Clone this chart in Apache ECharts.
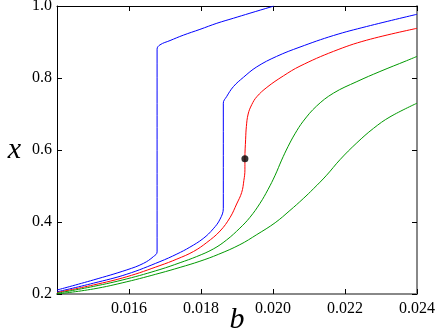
<!DOCTYPE html>
<html>
<head>
<meta charset="utf-8">
<script src="https://cdn.jsdelivr.net/npm/echarts@6/dist/echarts.min.js"></script>
<style>
  html, body { margin: 0; padding: 0; background: #fff; }
  #main { width: 436px; height: 336px; }
</style>
</head>
<body>
<div id="main"></div>
<script>
const chartDom = document.getElementById('main');
let myChart = echarts.init(chartDom);

// curves: [b, x]
const blueLeft = [
    [0.01400, 0.211], [0.01501, 0.239], [0.01594, 0.267], [0.01640, 0.285],
    [0.01668, 0.304], [0.01678, 0.317], [0.01678, 0.880], [0.01686, 0.892],
    [0.01714, 0.904], [0.01751, 0.919], [0.01797, 0.935], [0.01844, 0.952],
    [0.01890, 0.966], [0.01936, 0.980], [0.01996, 0.998], [0.02002, 1.000]
];
const blueRight = [
    [0.01400, 0.206], [0.01501, 0.230], [0.01594, 0.255], [0.01686, 0.290],
    [0.01733, 0.311], [0.01769, 0.330], [0.01806, 0.354], [0.01834, 0.381],
    [0.01853, 0.408], [0.01862, 0.438], [0.01862, 0.730], [0.01871, 0.748],
    [0.01890, 0.776], [0.01918, 0.802], [0.01955, 0.831], [0.02010, 0.860],
    [0.02075, 0.886], [0.02168, 0.918], [0.02260, 0.943], [0.02400, 0.977]
];
const red = [
    [0.01400, 0.204], [0.01501, 0.225], [0.01594, 0.248], [0.01686, 0.279],
    [0.01733, 0.297], [0.01779, 0.318], [0.01816, 0.343], [0.01853, 0.375],
    [0.01881, 0.413], [0.01899, 0.450], [0.01913, 0.482], [0.01919, 0.515],
    [0.01922, 0.545], [0.01922, 0.576], [0.01924, 0.630], [0.01926, 0.665],
    [0.01931, 0.700], [0.01941, 0.726], [0.01955, 0.748], [0.01983, 0.774],
    [0.02029, 0.806], [0.02075, 0.833], [0.02168, 0.874], [0.02260, 0.905],
    [0.02400, 0.938]
];
const greenUpper = [
    [0.01400, 0.202], [0.01501, 0.221], [0.01594, 0.242], [0.01686, 0.268],
    [0.01742, 0.287], [0.01788, 0.304], [0.01834, 0.325], [0.01871, 0.350],
    [0.01908, 0.383], [0.01936, 0.413], [0.01964, 0.452], [0.01986, 0.490],
    [0.02006, 0.530], [0.02024, 0.572], [0.02042, 0.610], [0.02061, 0.645],
    [0.02084, 0.680], [0.02121, 0.722], [0.02168, 0.758], [0.02233, 0.790],
    [0.02297, 0.818], [0.02371, 0.848], [0.02400, 0.860]
];
const greenLower = [
    [0.01400, 0.200], [0.01501, 0.214], [0.01594, 0.234], [0.01686, 0.258],
    [0.01742, 0.274], [0.01797, 0.291], [0.01848, 0.310], [0.01908, 0.337],
    [0.01955, 0.365], [0.02006, 0.398], [0.02047, 0.432], [0.02084, 0.465],
    [0.02112, 0.492], [0.02149, 0.530], [0.02186, 0.573], [0.02233, 0.620],
    [0.02279, 0.660], [0.02325, 0.692], [0.02400, 0.730]
];
const criticalPoint = [[0.01922, 0.576]];

const xTicks = [0.014, 0.024, 0.002];
const yTicks = [0.2, 1.0, 0.2];

const serif = 'Liberation Serif';

lineSeries = (data, color) => ({
    type: 'line',
    data,
    showSymbol: false,
    smooth: 0.4,
    clip: true,
    lineStyle: { color, width: 1 },
    animation: false
});

myChart.setOption({
    textStyle: { fontFamily: serif, color: '#000' },
    grid: { left: 57, right: 19, top: 6, bottom: 42, outerBoundsMode: 'none' },
    xAxis: [
        {
            type: 'value',
            min: xTicks[0], max: xTicks[1], interval: xTicks[2],
            name: 'b',
            nameLocation: 'middle',
            nameGap: 11,
            nameMoveOverlap: false,
            nameTextStyle: { fontFamily: serif, fontStyle: 'italic', fontSize: 30, color: '#000' },
            axisLine: { lineStyle: { color: '#888', width: 2 } },
            axisTick: { inside: true, length: 5, lineStyle: { color: '#000' } },
            axisLabel: {
                formatter: (v) => v <= 0.0141 ? '' : v.toFixed(3),
                margin: 7,
                fontFamily: serif,
                fontSize: 16,
                color: '#000'
            },
            splitLine: { show: false }
        },
        {
            type: 'value', position: 'top',
            min: xTicks[0], max: xTicks[1], interval: xTicks[2],
            axisLine: { lineStyle: { color: '#000', width: 1 } },
            axisTick: { inside: true, length: 5, lineStyle: { color: '#000' } },
            axisLabel: { show: false },
            splitLine: { show: false }
        }
    ],
    yAxis: [
        {
            type: 'value',
            min: yTicks[0], max: yTicks[1], interval: yTicks[2],
            name: 'x',
            nameLocation: 'middle',
            nameRotate: 0,
            nameGap: 36,
            nameMoveOverlap: false,
            nameTextStyle: { fontFamily: serif, fontStyle: 'italic', fontSize: 30, color: '#000' },
            axisLine: { lineStyle: { color: '#000', width: 1 } },
            axisTick: { inside: true, length: 5, lineStyle: { color: '#000' } },
            axisLabel: {
                formatter: (v) => v.toFixed(1),
                margin: 5,
                fontFamily: serif,
                fontSize: 16,
                color: '#000'
            },
            splitLine: { show: false }
        },
        {
            type: 'value', position: 'right',
            min: yTicks[0], max: yTicks[1], interval: yTicks[2],
            axisLine: { lineStyle: { color: '#888', width: 2 } },
            axisTick: { inside: true, length: 5, lineStyle: { color: '#000' } },
            axisLabel: { show: false },
            splitLine: { show: false }
        }
    ],
    series: [
        lineSeries(blueLeft, '#0000ff'),
        lineSeries(blueRight, '#0000ff'),
        lineSeries(red, '#ff0000'),
        lineSeries(greenUpper, '#009900'),
        lineSeries(greenLower, '#009900'),
        {
            type: 'scatter',
            data: criticalPoint,
            symbolSize: 7,
            z: 5,
            itemStyle: { color: '#000' },
            animation: false
        }
    ]
});

window.addEventListener('resize', () => {
    myChart.resize();
});
</script>
</body>
</html>
